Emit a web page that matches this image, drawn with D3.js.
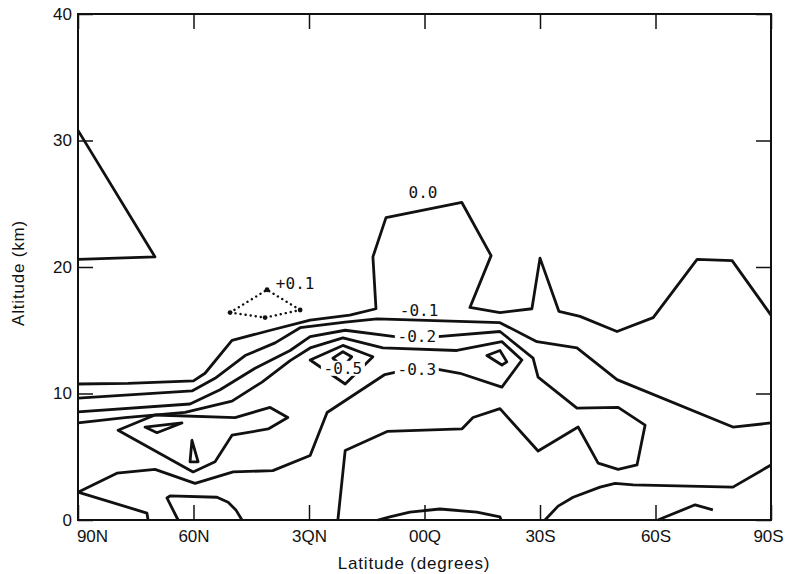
<!DOCTYPE html>
<html>
<head>
<meta charset="utf-8">
<script src="https://cdn.jsdelivr.net/npm/d3@7"></script>
<style>
  body { margin: 0; background: #fff; }
  .tick-lbl { font-family: "Liberation Sans", Arial, sans-serif; font-size: 17px; fill: #111; }
  .ttl { font-family: "Liberation Sans", Arial, sans-serif; font-size: 17px; fill: #111; letter-spacing: 0.8px; }
  .clbl { font-family: "DejaVu Sans Mono", monospace; font-size: 16px; fill: #111; }
</style>
</head>
<body>
<div class="chart"></div>
<script>
// latitude in degrees (north positive), altitude in km
const latTicks = [90, 60, 30, 0, -30, -60, -90];
const latLabels = ["90N", "60N", "3QN", "00Q", "30S", "60S", "90S"];
const altTicks = [0, 10, 20, 30, 40];

// contour lines, [lat, alt]
const c00North = [[90, 30.8], [70, 20.8], [90, 20.6]];
const c00 = [[90, 10.75], [77, 10.8], [60, 11.0], [57, 11.6], [50, 14.2], [40, 15.0], [29.7, 15.8],
  [19.4, 16.2], [12.6, 16.7], [13.4, 20.8], [10, 23.9], [-9.7, 25.1], [-17.3, 20.9], [-11.8, 16.8],
  [-19.6, 16.4], [-27.9, 16.7], [-30, 20.7], [-34.9, 16.5], [-40.4, 16.1], [-50, 14.9], [-59.4, 16.0],
  [-70.8, 20.6], [-79.9, 20.5], [-90, 16.2]];
const cm01 = [[90, 9.64], [60.4, 10.2], [54.4, 11.2], [46.6, 13.0], [38.8, 14.0], [32.3, 15.2],
  [20.6, 15.65], [12.3, 15.9], [-19.6, 15.6], [-29.2, 14.1], [-39.6, 13.6], [-50, 11.1],
  [-80.1, 7.35], [-90, 7.67]];
const cm02 = [[90, 8.54], [60.9, 9.17], [53.1, 10.3], [44, 12.0], [34.9, 13.4], [29.7, 14.5],
  [20.6, 15.0], [7.7, 14.5], [-3.5, 14.5], [-19.6, 14.9], [-28.2, 12.8], [-29.5, 11.3],
  [-39.6, 8.85], [-50.3, 8.9], [-57.3, 7.5], [-55.2, 4.35], [-50.3, 4.0], [-45.1, 4.5],
  [-39.9, 7.35], [-29.5, 5.45], [-19.6, 8.8], [-12.6, 8.1], [-9.7, 7.2], [9.7, 7.0],
  [20.6, 5.5], [22.5, 0]];
const cm03 = [[90, 7.67], [77.8, 8.1], [62.2, 8.5], [50, 9.4], [42.2, 10.9], [34.9, 12.6],
  [29.7, 13.6], [21.2, 14.4], [10.8, 13.6], [-8.4, 13.4], [-20.1, 14.1], [-25.3, 12.65],
  [-20.1, 10.5], [-9.2, 11.6], [-3.5, 11.9], [7.1, 11.7], [10.3, 11.5], [25.3, 8.5],
  [29.7, 5.1], [39.4, 3.9], [49.7, 3.8], [59.6, 2.9], [70, 4.0], [79.9, 3.7], [90, 2.2]];
const cm03Foot = [[90, 2.2], [72.1, 0.55], [71.8, 0]];
const cBump60N = [[64, 0], [66.9, 1.74], [66.1, 1.9], [53.9, 1.8], [51, 1.4], [49, 0.8], [47.4, 0]];
const cBumpEq = [[12.1, 0], [9, 0.24], [3.8, 0.63], [-4, 0.87], [-13.6, 0.63], [-19.6, 0.24], [-19.9, 0]];
const cSouth = [[-31.3, 0], [-34.7, 1.1], [-38.6, 1.8], [-45.6, 2.6], [-49.5, 2.9], [-54.2, 2.77],
  [-80.1, 2.6], [-90, 4.35]];
const cSouthSmall = [[-60.6, 0], [-70.3, 1.2], [-74.9, 0.8]];

// closed contours
const loopNW = [[79.6, 7.1], [70, 8.3], [49.2, 8.1], [40.1, 8.9], [35.5, 8.1], [40.6, 7.2],
  [50, 6.7], [54.4, 4.6], [60.1, 3.8]];
const loopNWInner = [[72.6, 7.35], [63, 7.67], [69.5, 6.9]];
const loopSpike60N = [[60.4, 6.3], [60.9, 4.6], [58.8, 4.6]];
const loop20N = [[29.7, 12.65], [21.2, 13.8], [13.4, 12.9], [20.6, 10.75]];
const loop20NInner = [[23.8, 12.8], [21.2, 13.3], [18.9, 12.9], [21.2, 12.1]];
const loop20S = [[-16.2, 13.0], [-19.6, 13.4], [-21.4, 12.5], [-20.1, 12.25]];
const loopPlus01 = [[50.5, 16.4], [40.9, 18.2], [32.3, 16.6], [41.4, 16.0]];

// contour labels: text, lat, alt
const contourLabels = [
  ["0.0", 0.4, 25.9],
  ["-0.1", 1.4, 16.6],
  ["+0.1", 33.6, 18.7]
];
const contourLabelsOnLine = [
  ["-0.2", 2.0, 14.5],
  ["-0.3", 2.0, 11.9],
  ["-0.5", 21.2, 11.95]
];

const svg = d3.select(".chart")
  .append("svg")
  .attr("width", 787)
  .attr("height", 574);

const margin = { top: 14, right: 16, bottom: 54, left: 78 };
const width = 787 - margin.left - margin.right;
const height = 574 - margin.top - margin.bottom;

const x = d3.scaleLinear().domain([90, -90]).range([0, width]);
const y = d3.scaleLinear().domain([0, 40]).range([height, 0]);

const g = svg.append("g")
  .attr("transform", `translate(${margin.left},${margin.top})`);

const line = d3.line().x(d => x(d[0])).y(d => y(d[1]));
const loop = d3.line().x(d => x(d[0])).y(d => y(d[1])).curve(d3.curveLinearClosed);

const openLines = [c00North, c00, cm01, cm02, cm03, cm03Foot, cBump60N, cBumpEq, cSouth, cSouthSmall];
const closedLines = [loopNW, loopNWInner, loopSpike60N, loop20N, loop20NInner, loop20S];

g.selectAll("path.open")
  .data(openLines)
  .join("path")
  .attr("class", "open")
  .attr("d", line)
  .attr("fill", "none")
  .attr("stroke", "#111")
  .attr("stroke-width", 2.8)
  .attr("stroke-linejoin", "round");

g.selectAll("path.closed")
  .data(closedLines)
  .join("path")
  .attr("class", "closed")
  .attr("d", loop)
  .attr("fill", "none")
  .attr("stroke", "#111")
  .attr("stroke-width", 2.8)
  .attr("stroke-linejoin", "round");

// dotted positive contour
g.append("path")
  .attr("d", loop(loopPlus01))
  .attr("fill", "none")
  .attr("stroke", "#111")
  .attr("stroke-width", 2.4)
  .attr("stroke-linecap", "round")
  .attr("stroke-dasharray", "0.1 5");

g.selectAll("circle.vtx")
  .data(loopPlus01)
  .join("circle")
  .attr("class", "vtx")
  .attr("cx", d => x(d[0]))
  .attr("cy", d => y(d[1]))
  .attr("r", 2.4)
  .attr("fill", "#111");

// labels that sit on a line get a white patch behind them
const onLine = g.selectAll("g.onl")
  .data(contourLabelsOnLine)
  .join("g")
  .attr("class", "onl")
  .attr("transform", d => `translate(${x(d[1])},${y(d[2])})`);

onLine.append("rect")
  .attr("x", -22).attr("y", -8)
  .attr("width", 44).attr("height", 15)
  .attr("fill", "#fff");

onLine.append("text")
  .attr("class", "clbl")
  .attr("text-anchor", "middle")
  .attr("dominant-baseline", "central")
  .text(d => d[0]);

g.selectAll("text.free")
  .data(contourLabels)
  .join("text")
  .attr("class", "clbl free")
  .attr("x", d => x(d[1]))
  .attr("y", d => y(d[2]))
  .attr("text-anchor", "middle")
  .attr("dominant-baseline", "central")
  .text(d => d[0]);

// frame
g.append("rect")
  .attr("width", width)
  .attr("height", height)
  .attr("fill", "none")
  .attr("stroke", "#111")
  .attr("stroke-width", 2);

// axes, ticks pointing inward
const xBottom = g.append("g")
  .attr("transform", `translate(0,${height})`)
  .call(d3.axisBottom(x).tickValues(latTicks).tickSize(-15).tickPadding(10)
    .tickFormat((d, i) => latLabels[i]));

const xTop = g.append("g")
  .call(d3.axisTop(x).tickValues(latTicks).tickSize(-15).tickFormat(""));

const yLeft = g.append("g")
  .call(d3.axisLeft(y).tickValues(altTicks).tickSize(-15).tickPadding(6));

const yRight = g.append("g")
  .attr("transform", `translate(${width},0)`)
  .call(d3.axisRight(y).tickValues(altTicks).tickSize(-15).tickFormat(""));

[xBottom, xTop, yLeft, yRight].forEach(a => {
  a.select(".domain").remove();
  a.selectAll(".tick line").attr("stroke", "#111").attr("stroke-width", 1.5);
});

xBottom.selectAll("text").attr("class", "tick-lbl")
  .attr("dx", (d, i) => i === 0 ? 14 : (i === latTicks.length - 1 ? -3 : 0));
yLeft.selectAll("text").attr("class", "tick-lbl");

// axis titles
svg.append("text")
  .attr("class", "ttl")
  .attr("x", 414)
  .attr("y", 569)
  .attr("text-anchor", "middle")
  .text("Latitude (degrees)");

svg.append("text")
  .attr("class", "ttl")
  .attr("transform", "translate(24,273) rotate(-90)")
  .attr("text-anchor", "middle")
  .text("Altitude (km)");
</script>
</body>
</html>
